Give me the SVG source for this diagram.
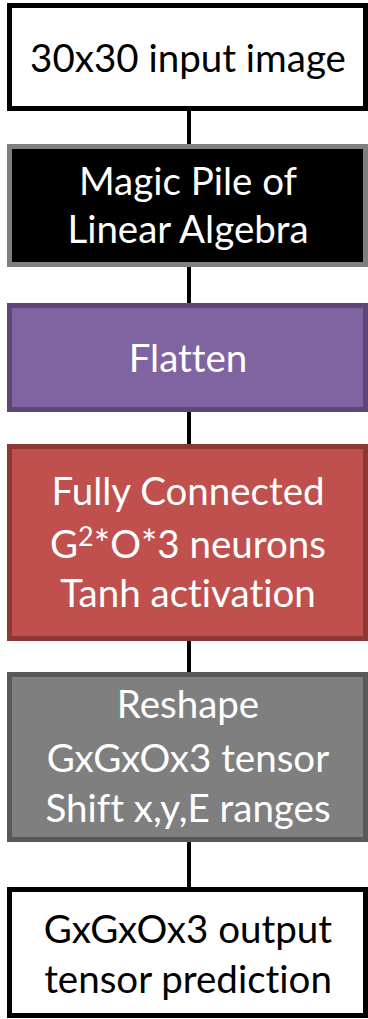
<svg xmlns="http://www.w3.org/2000/svg" width="368" height="1019" viewBox="0 0 368 1019">
  <style>
    .box { stroke-width: 5; }
    .lbl { font-family: Lato, "Open Sans", "Liberation Sans", sans-serif; font-size: 38.5px; text-anchor: middle; font-variant-ligatures: none; }
    .dark { fill: #000000; }
    .light { fill: #ffffff; }
    .conn { stroke: #000000; stroke-width: 4; fill: none; }
  </style>
  <rect width="368" height="1019" fill="#ffffff"/>

  <!-- connectors between stages -->
  <g id="connectors">
    <line class="conn" x1="189" y1="108" x2="189" y2="146"/>
    <line class="conn" x1="189" y1="265" x2="189" y2="305"/>
    <line class="conn" x1="189" y1="410" x2="189" y2="447"/>
    <line class="conn" x1="189" y1="639" x2="189" y2="675"/>
    <line class="conn" x1="189" y1="840" x2="189" y2="890"/>
  </g>

  <g id="input">
    <rect class="box" x="9.5" y="5.5" width="356" height="103" fill="#ffffff" stroke="#000000"/>
    <text class="lbl dark" x="188" y="72">30x30 input image</text>
  </g>

  <g id="magic">
    <rect class="box" x="9.5" y="146.5" width="356" height="118" fill="#000000" stroke="#7f7f7f"/>
    <text class="lbl light" x="188" y="195">Magic Pile of</text>
    <text class="lbl light" x="188" y="243">Linear Algebra</text>
  </g>

  <g id="flatten">
    <rect class="box" x="9.5" y="305.5" width="356" height="104" fill="#8064a2" stroke="#5c4776"/>
    <text class="lbl light" x="188" y="372">Flatten</text>
  </g>

  <g id="dense">
    <rect class="box" x="9.5" y="446.5" width="356" height="192" fill="#c0504d" stroke="#8c3836"/>
    <text class="lbl light" x="188" y="505">Fully Connected</text>
    <text class="lbl light" x="188" y="558">G<tspan font-size="27" baseline-shift="46%">2</tspan>*O*3 neurons</text>
    <text class="lbl light" x="188" y="607">Tanh activation</text>
  </g>

  <g id="reshape">
    <rect class="box" x="9.5" y="674.5" width="356" height="165" fill="#7f7f7f" stroke="#595959"/>
    <text class="lbl light" x="188" y="718">Reshape</text>
    <text class="lbl light" x="188" y="772">GxGxOx3 tensor</text>
    <text class="lbl light" x="188" y="822">Shift x,y,E ranges</text>
  </g>

  <g id="output">
    <rect class="box" x="9.5" y="889.5" width="356" height="126" fill="#ffffff" stroke="#000000"/>
    <text class="lbl dark" x="188" y="943">GxGxOx3 output</text>
    <text class="lbl dark" x="188" y="993">tensor prediction</text>
  </g>
</svg>
